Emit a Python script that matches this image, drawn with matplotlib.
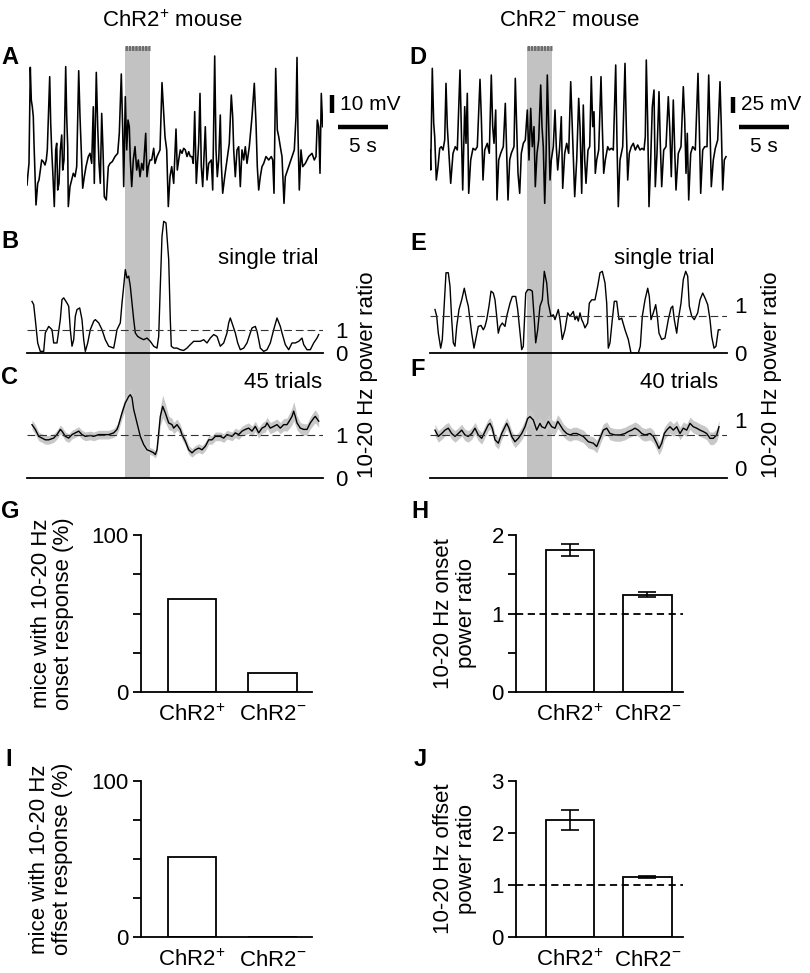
import numpy as np
import matplotlib
matplotlib.use("Agg")
import matplotlib.pyplot as plt

plt.rcParams['font.family'] = 'Liberation Sans'
plt.rcParams['font.size'] = 16
plt.rcParams['mathtext.fontset'] = 'custom'
plt.rcParams['mathtext.rm'] = 'Liberation Sans'
plt.rcParams['mathtext.it'] = 'Liberation Sans:italic'
plt.rcParams['mathtext.bf'] = 'Liberation Sans:bold'
plt.rcParams['mathtext.default'] = 'regular'

W, H = 810, 973

# ---------------- data ----------------
# light stimulus window (s)
stim_pos = (9.85, 12.35)
stim_neg = (9.7, 12.2)

# A: membrane potential, ChR2+ mouse (t [s], mV re. baseline)
vm_pos = [
    (0.0, -13.9), (0.07, -9.3), (0.2, -1.9), (0.33, 51.5), (0.43, 33.3), (0.53, 29.6),
    (0.63, 24.1), (0.7, 9.3), (0.9, -25.0), (1.07, -13.0), (1.2, -11.1), (1.33, -5.6),
    (1.47, 0.0), (1.63, -0.9), (1.8, -2.8), (1.93, 0.0), (2.03, 5.6), (2.27, 46.3),
    (2.37, 20.4), (2.47, 5.6), (2.6, -9.3), (2.73, -25.9), (2.87, 5.6), (2.97, 9.3),
    (3.07, -16.7), (3.2, -13.0), (3.33, 5.6), (3.47, 13.9), (3.57, -5.6), (3.7, 0.0),
    (3.87, 51.9), (3.97, 24.1), (4.07, 7.4), (4.13, -25.9), (4.3, -14.8), (4.47, -11.1),
    (4.63, -7.4), (4.8, -9.3), (4.97, -3.7), (5.17, 49.6), (5.3, 24.1), (5.47, 0.0),
    (5.57, -15.7), (5.73, -9.3), (5.9, -3.7), (6.13, 1.9), (6.3, 3.7), (6.47, -1.9),
    (6.63, 29.6), (6.73, -13.0), (6.93, 48.7), (7.07, 18.5), (7.2, -1.9), (7.33, -13.0),
    (7.47, 25.9), (7.6, 5.6), (7.73, -20.4), (7.93, -22.2), (8.13, -3.7), (8.3, -1.9),
    (8.53, -0.9), (8.8, 1.9), (9.07, 3.7), (9.23, 14.8), (9.43, 47.8), (9.57, 16.7),
    (9.67, -14.8), (9.83, 35.2), (9.97, 5.6), (10.1, 22.2), (10.23, 18.5), (10.33, 0.0),
    (10.47, -14.8), (10.63, 0.0), (10.8, 7.4), (10.97, -5.6), (11.13, 0.0), (11.3, -9.3),
    (11.47, -1.9), (11.63, -5.6), (11.87, 14.8), (12.0, -9.3), (12.13, -3.7), (12.3, 0.0),
    (12.47, 0.0), (12.67, 6.5), (12.8, -1.9), (13.0, 1.9), (13.3, 5.6), (13.5, 43.0),
    (13.63, 29.6), (13.8, 13.0), (13.97, 5.6), (14.13, -25.9), (14.3, -9.3), (14.47, -3.7),
    (14.67, -13.0), (14.9, 17.2), (15.03, -5.6), (15.17, 0.0), (15.33, 5.6), (15.5, 3.7),
    (15.67, 6.5), (15.83, 5.6), (16.0, 1.9), (16.17, 4.6), (16.33, 1.9), (16.5, 1.9),
    (16.63, -1.9), (16.77, 26.9), (16.93, -13.0), (17.17, 9.3), (17.3, 37.0), (17.43, -3.7),
    (17.57, -14.8), (17.83, 18.5), (18.0, -11.1), (18.17, -1.9), (18.43, 0.0), (18.57, -16.7),
    (18.77, 57.8), (18.9, 5.6), (19.03, -9.3), (19.17, 0.0), (19.33, 25.0), (19.43, -1.9),
    (19.57, -18.5), (19.77, -9.3), (20.0, 0.0), (20.23, 9.3), (20.43, 36.1), (20.57, 24.1),
    (20.67, 5.6), (20.83, -9.3), (21.0, 5.6), (21.17, 7.4), (21.33, -14.8), (21.5, 5.6),
    (21.67, 0.0), (21.83, 7.4), (22.0, -1.9), (22.23, 7.4), (22.5, 24.1), (22.73, 42.6),
    (22.9, 20.4), (23.03, -3.7), (23.17, -16.7), (23.33, -9.3), (23.5, -3.7), (23.67, -1.9),
    (23.9, 1.9), (24.17, 0.0), (24.43, 1.9), (24.57, 0.0), (24.7, -18.5), (24.87, 50.9),
    (25.03, 16.7), (25.17, 13.0), (25.33, 7.4), (25.5, 1.9), (25.7, -24.1), (25.83, -9.3),
    (26.17, -3.7), (26.5, 1.9), (26.73, 5.6), (26.9, 24.1), (27.0, 57.0), (27.1, 14.8),
    (27.23, -16.7), (27.4, 5.6), (27.57, -3.7), (27.83, -1.9), (28.17, 1.9), (28.5, 3.7),
    (28.73, 0.0), (28.9, 1.9), (29.03, 22.2), (29.17, 18.5), (29.3, -7.4), (29.43, 37.0),
    (29.57, 18.5),
]

# D: membrane potential, ChR2- mouse (t [s], mV re. baseline)
vm_neg = [
    (0.0, -5), (0.07, -35), (0.23, 117.5), (0.37, 35), (0.47, 15), (0.63, -50),
    (0.8, -30), (0.97, -2.5), (1.13, 0), (1.3, -5), (1.47, 10), (1.6, 95),
    (1.73, 30), (1.87, -5), (2.07, -55), (2.3, -10), (2.53, 0), (2.73, -5),
    (3.0, 115), (3.13, 30), (3.27, -65), (3.47, 60), (3.6, 5), (3.73, 80),
    (3.87, -70), (4.07, -20), (4.3, -2.5), (4.53, -5), (4.73, 0), (5.0, 101),
    (5.13, 45), (5.3, -50), (5.47, -5), (5.73, 5), (5.93, -10), (6.13, 107.5),
    (6.27, 30), (6.4, 5), (6.57, 55), (6.7, -80), (6.87, -20), (7.07, -10),
    (7.33, 0), (7.53, 65), (7.67, -10), (7.8, -80), (7.97, -20), (8.13, -10),
    (8.4, 0), (8.53, 102.5), (8.67, 30), (8.8, -40), (8.97, -70), (9.13, -10),
    (9.33, 5), (9.53, 10), (9.73, 55), (9.9, -20), (10.07, 57.5), (10.23, 0),
    (10.4, 30), (10.53, -60), (10.7, -10), (10.87, 10), (11.07, 92.5), (11.2, 30),
    (11.33, 0), (11.47, -85), (11.6, -20), (11.73, 107.5), (11.87, 30), (12.0, -50),
    (12.13, -20), (12.33, 0), (12.5, 55), (12.63, 0), (12.77, -35), (12.97, 0),
    (13.13, 45), (13.27, -62.5), (13.47, -10), (13.67, 5), (13.87, -10), (14.07, 97.5),
    (14.2, 40), (14.33, -20), (14.47, -75), (14.67, -20), (14.87, 72.5), (15.0, 30),
    (15.17, -70), (15.33, 62.5), (15.47, -20), (15.6, -55), (15.8, -5), (15.97, 0),
    (16.13, 105), (16.27, 30), (16.4, 52.5), (16.53, -40), (16.67, -20), (16.87, -5),
    (17.1, 105), (17.23, 30), (17.37, -40), (17.53, -20), (17.77, 0), (17.93, -5),
    (18.13, -2.5), (18.33, -5), (18.57, 122.5), (18.7, 5), (18.83, -90), (19.0, -20),
    (19.27, 0), (19.5, 125), (19.63, 30), (19.77, -50), (19.93, -10), (20.13, 0),
    (20.33, 5), (20.53, -5), (20.77, 2.5), (21.0, -5), (21.2, -2.5), (21.4, -5),
    (21.53, 15), (21.63, 130), (21.77, 35), (21.9, -90), (22.07, -20), (22.23, 60),
    (22.4, 85), (22.53, -60), (22.7, -10), (22.9, 82.5), (23.03, 5), (23.17, -60),
    (23.37, -5), (23.6, 0), (23.83, 75), (23.97, 30), (24.13, -45), (24.33, 70),
    (24.47, -5), (24.6, -65), (24.83, -10), (25.1, 0), (25.33, 90), (25.47, 40),
    (25.6, -40), (25.73, 20), (25.87, -80), (26.07, -10), (26.27, 0), (26.53, -5),
    (26.8, 110), (26.93, 30), (27.07, -70), (27.27, -5), (27.47, 0), (27.7, 0),
    (27.87, 107.5), (28.0, 30), (28.13, -60), (28.33, -20), (28.53, -2.5), (28.77, 10),
    (29.0, 97.5), (29.13, 30), (29.27, -65), (29.43, -20), (29.6, -15),
]

# B: 10-20 Hz power ratio, single trial, ChR2+
single_pos = [
    (0.5, 2.21), (0.67, 2.07), (0.83, 1.43), (1.07, 0.43), (1.33, 0.07), (1.67, 0.07),
    (1.83, 0.86), (2.17, 1.14), (2.5, 1.0), (2.67, 0.43), (3.0, 0.43), (3.33, 1.43),
    (3.5, 2.29), (3.67, 2.36), (4.0, 2.14), (4.17, 2.0), (4.33, 1.0), (4.5, 0.29),
    (4.67, 0.57), (4.83, 1.57), (5.0, 1.86), (5.27, 1.93), (5.5, 1.43), (5.67, 0.57),
    (5.83, 0.07), (6.07, 0.43), (6.33, 1.0), (6.67, 1.36), (6.83, 1.43), (7.17, 1.29),
    (7.5, 1.0), (7.83, 0.57), (8.17, 0.29), (8.67, 0.21), (8.83, 0.57), (9.0, 1.0),
    (9.33, 1.29), (9.5, 2.14), (9.67, 2.86), (9.83, 3.57), (10.0, 3.21), (10.17, 3.29),
    (10.33, 2.86), (10.5, 2.14), (10.67, 1.43), (10.83, 0.86), (11.07, 0.71), (11.33, 0.64),
    (11.67, 0.57), (12.0, 0.64), (12.33, 0.5), (12.67, 0.29), (13.0, 0.21), (13.17, 0.71),
    (13.33, 2.86), (13.5, 5.0), (13.67, 5.64), (13.9, 5.57), (14.17, 4.0), (14.33, 1.43),
    (14.43, 0.29), (14.67, 0.21), (15.0, 0.21), (15.33, 0.14), (15.67, 0.11), (16.0, 0.21),
    (16.33, 0.36), (16.67, 0.5), (17.33, 0.5), (17.67, 0.57), (18.0, 0.43), (18.33, 0.64),
    (18.67, 0.79), (19.0, 0.71), (19.33, 0.29), (19.67, 0.43), (20.0, 0.86), (20.17, 1.29),
    (20.33, 1.5), (20.5, 1.29), (20.83, 0.86), (21.07, 0.43), (21.33, 0.14), (21.67, 0.21),
    (22.0, 0.43), (22.33, 0.86), (22.5, 1.07), (22.83, 1.14), (23.0, 0.93), (23.17, 0.57),
    (23.33, 0.21), (23.67, 0.07), (24.0, 0.14), (24.33, 0.43), (24.67, 1.0), (25.0, 1.5),
    (25.33, 1.14), (25.5, 0.86), (25.83, 0.36), (26.17, 0.14), (26.5, 0.43), (26.83, 0.43),
    (27.17, 0.5), (27.5, 0.64), (27.67, 0.36), (28.0, 0.14), (28.33, 0.14), (28.67, 0.43),
    (29.0, 0.64), (29.17, 0.79),
]

# E: 10-20 Hz power ratio, single trial, ChR2-
single_neg = [
    (0.5, 0.9), (0.67, 0.76), (0.83, 0.41), (1.07, 0.1), (1.23, 0.28), (1.43, 1.03),
    (1.6, 1.66), (1.83, 1.66), (2.0, 1.38), (2.17, 0.69), (2.33, 0.21), (2.5, 0.14),
    (2.67, 0.55), (2.9, 0.9), (3.17, 1.1), (3.43, 1.34), (3.67, 1.1), (3.83, 0.97),
    (4.0, 0.69), (4.17, 0.41), (4.4, 0.1), (4.57, 0.28), (4.83, 0.55), (5.1, 0.57),
    (5.33, 0.48), (5.5, 0.55), (5.67, 0.69), (5.9, 0.97), (6.1, 1.28), (6.33, 1.24),
    (6.5, 1.1), (6.67, 0.76), (6.83, 0.41), (7.0, 0.55), (7.23, 0.62), (7.5, 0.55),
    (7.67, 0.76), (8.0, 1.03), (8.23, 1.17), (8.57, 1.17), (8.77, 0.9), (9.0, 0.41),
    (9.17, 0.07), (9.33, 0.14), (9.57, 1.24), (9.77, 1.31), (10.0, 1.31), (10.23, 1.28),
    (10.43, 0.69), (10.57, 0.21), (10.77, 0.48), (11.0, 0.97), (11.23, 1.1), (11.43, 1.69),
    (11.67, 1.45), (11.83, 1.03), (12.1, 0.76), (12.33, 0.79), (12.5, 0.69), (12.83, 0.9),
    (13.0, 0.69), (13.23, 0.28), (13.5, 0.48), (13.77, 0.83), (14.0, 0.76), (14.33, 0.86),
    (14.5, 0.69), (14.67, 0.76), (14.83, 0.66), (15.0, 0.83), (15.17, 0.69), (15.33, 0.62),
    (15.5, 0.52), (15.77, 0.62), (15.93, 1.03), (16.17, 1.1), (16.5, 1.1), (16.77, 1.38),
    (17.0, 1.66), (17.23, 1.69), (17.5, 1.45), (17.67, 1.03), (17.83, 0.1), (18.0, 0.21),
    (18.23, 0.69), (18.43, 1.07), (18.67, 1.07), (18.9, 0.69), (19.17, 0.72), (19.5, 0.48),
    (19.83, 0.28), (20.1, 0.0), (20.83, 0.0), (21.03, 0.14), (21.23, 0.76), (21.5, 1.1),
    (21.77, 1.34), (21.93, 1.17), (22.1, 0.69), (22.33, 0.83), (22.57, 1.0), (22.73, 0.76),
    (22.9, 0.41), (23.17, 0.28), (23.5, 0.31), (23.83, 0.69), (24.1, 0.93), (24.27, 0.97),
    (24.43, 0.69), (24.67, 0.41), (24.83, 0.69), (25.1, 1.03), (25.33, 1.52), (25.57, 1.69),
    (25.77, 1.59), (25.93, 0.97), (26.17, 0.76), (26.43, 0.69), (26.77, 0.83), (27.0, 1.1),
    (27.27, 1.24), (27.5, 1.14), (27.77, 1.0), (28.0, 0.69), (28.17, 0.34), (28.4, 0.1),
    (28.6, 0.14), (28.83, 0.48), (29.0, 0.48),
]

# C: mean +- SEM over 45 trials, ChR2+ (t, mean, sem)
mean_pos = [
    (0.5, 1.23, 0.11), (0.83, 1.12, 0.11), (1.17, 0.96, 0.1), (1.5, 0.92, 0.1), (1.83, 0.88, 0.1),
    (2.17, 0.88, 0.1), (2.67, 0.92, 0.1), (3.0, 1.0, 0.1), (3.33, 1.12, 0.1), (3.5, 1.08, 0.1),
    (3.83, 0.96, 0.1), (4.17, 0.92, 0.1), (4.5, 1.0, 0.1), (4.83, 1.04, 0.1), (5.17, 1.08, 0.1),
    (5.5, 1.0, 0.1), (5.83, 0.96, 0.1), (6.33, 0.98, 0.1), (6.67, 0.96, 0.1), (7.17, 1.0, 0.1),
    (7.67, 1.0, 0.1), (8.17, 1.0, 0.1), (8.67, 1.04, 0.1), (9.0, 1.12, 0.11), (9.17, 1.23, 0.12),
    (9.5, 1.5, 0.13), (9.83, 1.73, 0.15), (10.17, 1.88, 0.16), (10.33, 1.92, 0.16), (10.5, 1.85, 0.15),
    (10.67, 1.58, 0.13), (11.0, 1.27, 0.11), (11.33, 0.96, 0.1), (11.67, 0.77, 0.09), (12.0, 0.65, 0.08),
    (12.33, 0.62, 0.08), (12.67, 0.58, 0.08), (12.83, 0.54, 0.08), (13.0, 0.65, 0.1), (13.17, 1.04, 0.15),
    (13.33, 1.42, 0.22), (13.57, 1.65, 0.26), (13.83, 1.5, 0.22), (14.17, 1.27, 0.16), (14.5, 1.23, 0.14),
    (14.67, 1.15, 0.13), (15.0, 1.23, 0.13), (15.33, 1.12, 0.12), (15.5, 1.0, 0.11), (15.83, 0.85, 0.1),
    (16.17, 0.65, 0.1), (16.5, 0.58, 0.1), (16.83, 0.65, 0.1), (17.17, 0.69, 0.1), (17.5, 0.65, 0.1),
    (17.83, 0.73, 0.1), (18.17, 0.88, 0.1), (18.5, 0.88, 0.1), (18.83, 0.96, 0.1), (19.33, 0.96, 0.1),
    (19.67, 0.92, 0.1), (20.0, 1.0, 0.1), (20.5, 0.96, 0.1), (20.83, 1.04, 0.11), (21.17, 1.0, 0.11),
    (21.5, 1.08, 0.11), (21.83, 1.12, 0.12), (22.17, 1.15, 0.12), (22.5, 1.08, 0.12), (22.83, 1.19, 0.12),
    (23.17, 1.04, 0.12), (23.5, 1.15, 0.12), (23.83, 1.19, 0.13), (24.0, 1.27, 0.13), (24.33, 1.15, 0.13),
    (24.67, 1.19, 0.13), (25.0, 1.23, 0.13), (25.33, 1.15, 0.13), (25.67, 1.23, 0.14), (26.0, 1.23, 0.15),
    (26.33, 1.35, 0.18), (26.5, 1.42, 0.2), (26.67, 1.54, 0.22), (26.83, 1.42, 0.2), (27.0, 1.27, 0.16),
    (27.33, 1.15, 0.13), (27.67, 1.12, 0.13), (28.0, 1.12, 0.13), (28.33, 1.27, 0.14), (28.67, 1.38, 0.15),
    (28.83, 1.42, 0.15), (29.17, 1.31, 0.14),
]

# F: mean +- SEM over 40 trials, ChR2- (t, mean, sem)
mean_neg = [
    (0.5, 0.79, 0.12), (0.83, 0.66, 0.12), (1.17, 0.72, 0.12), (1.5, 0.79, 0.12), (1.83, 0.83, 0.12),
    (2.17, 0.72, 0.12), (2.5, 0.66, 0.12), (2.83, 0.72, 0.12), (3.17, 0.79, 0.12), (3.5, 0.69, 0.12),
    (3.83, 0.66, 0.12), (4.17, 0.72, 0.12), (4.5, 0.83, 0.12), (4.83, 0.69, 0.12), (5.17, 0.62, 0.12),
    (5.5, 0.76, 0.12), (5.83, 0.9, 0.12), (6.0, 0.93, 0.12), (6.23, 0.83, 0.12), (6.5, 0.59, 0.12),
    (6.83, 0.52, 0.12), (7.17, 0.72, 0.12), (7.5, 0.86, 0.12), (7.67, 0.93, 0.12), (7.9, 0.83, 0.12),
    (8.17, 0.66, 0.12), (8.5, 0.55, 0.12), (8.83, 0.62, 0.12), (9.17, 0.72, 0.13), (9.5, 0.86, 0.14),
    (9.77, 1.03, 0.15), (10.0, 1.07, 0.15), (10.33, 1.0, 0.15), (10.67, 0.79, 0.14), (11.0, 0.93, 0.14),
    (11.17, 0.86, 0.14), (11.5, 0.83, 0.14), (11.83, 0.97, 0.14), (12.17, 0.86, 0.14), (12.5, 0.83, 0.14),
    (12.77, 0.97, 0.14), (13.0, 0.9, 0.14), (13.33, 0.79, 0.13), (13.67, 0.72, 0.13), (14.0, 0.69, 0.13),
    (14.33, 0.72, 0.13), (14.67, 0.72, 0.13), (15.0, 0.69, 0.13), (15.33, 0.66, 0.13), (15.83, 0.55, 0.13),
    (16.33, 0.52, 0.13), (16.67, 0.45, 0.13), (17.0, 0.62, 0.13), (17.33, 0.79, 0.13), (17.67, 0.83, 0.13),
    (18.0, 0.72, 0.13), (18.5, 0.69, 0.13), (19.0, 0.69, 0.13), (19.5, 0.72, 0.13), (19.83, 0.76, 0.13),
    (20.17, 0.79, 0.13), (20.5, 0.83, 0.13), (20.83, 0.79, 0.13), (21.17, 0.72, 0.13), (21.5, 0.69, 0.13),
    (22.0, 0.72, 0.13), (22.33, 0.66, 0.13), (22.67, 0.52, 0.13), (22.9, 0.41, 0.13), (23.17, 0.52, 0.13),
    (23.43, 0.72, 0.13), (23.67, 0.79, 0.13), (24.0, 0.86, 0.13), (24.33, 0.79, 0.13), (24.67, 0.86, 0.13),
    (25.0, 0.72, 0.13), (25.33, 0.83, 0.13), (25.67, 0.79, 0.13), (26.0, 0.93, 0.13), (26.33, 0.86, 0.13),
    (26.67, 0.83, 0.13), (27.0, 0.79, 0.13), (27.33, 0.76, 0.13), (27.67, 0.72, 0.13), (28.0, 0.62, 0.13),
    (28.33, 0.62, 0.13), (28.67, 0.69, 0.13), (28.9, 0.86, 0.13),
]

# dashed reference level per trace panel
ref_single_pos, ref_mean_pos = 1.0, 1.0
ref_single_neg, ref_mean_neg = 0.77, 0.69

# bar charts
groups = ['ChR2$^{+}$', 'ChR2$^{-}$']
onset_pct = [59, 12]
offset_pct = [51, 0]
onset_ratio = [1.81, 1.24]
onset_sem = [0.075, 0.03]
offset_ratio = [2.25, 1.15]
offset_sem = [0.19, 0.02]

# scale bars
scale_mv_pos, scale_mv_neg, scale_s = 10, 25, 5

# ---------------- figure ----------------
fig = plt.figure(figsize=(W / 100, H / 100), dpi=100)


def add_ax(x0, y0, x1, y1, z=1):
    # box given in pixels from the top-left corner
    ax = fig.add_axes([x0 / W, 1 - y1 / H, (x1 - x0) / W, (y1 - y0) / H], zorder=z)
    ax.patch.set_visible(False)
    return ax


def clean(ax, keep=('bottom',)):
    for s in ['top', 'bottom', 'left', 'right']:
        ax.spines[s].set_visible(s in keep)
        ax.spines[s].set_linewidth(1.3)


def ftext(x, y, s, **kw):
    fig.text(x / W, 1 - y / H, s, **kw)


# light-stimulus shading behind A-C and D-F
for x0, x1, xmax, stim in [(27, 323, 29.6, stim_pos), (430, 727, 29.7, stim_neg)]:
    bg = add_ax(x0, 47, x1, 478, z=0)
    bg.axvspan(*stim, color='#c2c2c2', lw=0)
    bg.set_xlim(0, xmax)
    bg.axis('off')


def vm_panel(box, data, xmax, ylim, stim, bar_mv, bar_t, bar_y, label_y, s_y):
    ax = add_ax(*box)
    t, v = np.array(data).T
    ax.plot(t, v, color='k', lw=1.15)
    ax.set_xlim(0, xmax)
    ax.set_ylim(ylim)
    ax.axis('off')
    # stimulus pulses
    ax.plot(stim, [ylim[1] - 0.02 * (ylim[1] - ylim[0])] * 2, color='#6e6e6e', lw=3.6,
            ls=(0, (0.5, 0.15)), solid_capstyle='butt', clip_on=False)
    # scale bars
    ax.plot([bar_t, bar_t], [bar_y, bar_y + bar_mv], color='k', lw=3.2,
            solid_capstyle='butt', clip_on=False)
    ax.plot([bar_t + 0.6, bar_t + 0.6 + scale_s], [s_y, s_y], color='k', lw=3.2,
            solid_capstyle='butt', clip_on=False)
    ax.text(bar_t + 0.8, label_y, f'{bar_mv} mV', va='center', ha='left', fontsize=15)
    ax.text(bar_t + 0.6 + scale_s / 2, s_y - 0.12 * (ylim[1] - ylim[0]), f'{scale_s} s',
            va='center', ha='center', fontsize=15)
    return ax


vm_panel((27, 45, 323, 210), vm_pos, 29.6, (-27.8, 63.9), stim_pos,
         scale_mv_pos, 30.5, 26.1, 31.1, 18.3)
vm_panel((430, 45, 727, 210), vm_neg, 29.7, (-95, 152.5), stim_neg,
         scale_mv_neg, 30.3, 50, 62.5, 29.5)


def ratio_panel(box, data, xmax, ylim, ref, pad, text, text_xy):
    ax = add_ax(*box)
    arr = np.array(data).T
    if len(arr) == 3:
        t, m, s = arr
        ax.fill_between(t, m - s, m + s, color='#c8c8c8', lw=0)
    else:
        t, m = arr
    ax.plot(t, m, color='k', lw=1.0)
    ax.axhline(ref, color='#333333', lw=0.8, ls=(0, (7, 3.5)))
    clean(ax)
    ax.set_xlim(0, xmax)
    ax.set_ylim(ylim)
    ax.set_xticks([])
    ax.yaxis.tick_right()
    ax.set_yticks([0, 1])
    ax.tick_params(axis='y', length=0, pad=pad, labelsize=16)
    ftext(text_xy[0], text_xy[1], text, ha='right', va='center', fontsize=16)
    return ax


ratio_panel((27, 215, 323, 353), single_pos, 29.6, (0, 5.91), ref_single_pos, 9,
            'single trial', (318, 258))
ratio_panel((27, 360, 323, 478), mean_pos, 29.6, (0, 2.72), ref_mean_pos, 9,
            '45 trials', (322, 383))
ratio_panel((430, 215, 727, 353), single_neg, 29.7, (0, 2.855), ref_single_neg, 5,
            'single trial', (715, 258))
ratio_panel((430, 360, 727, 478), mean_neg, 29.7, (-0.2, 2.24), ref_mean_neg, 5,
            '40 trials', (718, 383))

for x in (367, 772):
    ftext(x, 375, '10-20 Hz power ratio', rotation=90, ha='center', va='center', fontsize=16)

ftext(172, 21, 'ChR2$^{+}$ mouse', ha='center', va='center', fontsize=16)
ftext(569, 21, 'ChR2$^{-}$ mouse', ha='center', va='center', fontsize=16)


def bar_panel(box, vals, xlim, width, ylim, major, minor, ylabel, label_x, err=None, ref=None):
    ax = add_ax(*box)
    x = np.arange(len(vals))
    ax.bar(x, vals, width=width, color='white', edgecolor='k', lw=1.3, zorder=2)
    if err is not None:
        ax.errorbar(x, vals, yerr=err, fmt='none', ecolor='k', elinewidth=1.2,
                    capsize=6.5, capthick=1.2, zorder=3)
    if ref is not None:
        ax.axhline(ref, color='k', lw=1.3, ls=(0, (4, 2.5)), zorder=4)
    clean(ax, keep=('bottom', 'left'))
    ax.set_xlim(xlim)
    ax.set_ylim(ylim)
    ax.set_yticks(major)
    ax.set_yticks(minor, minor=True)
    ax.tick_params(axis='y', which='both', length=5.8, width=1.3, pad=3, labelsize=16)
    ax.set_xticks(x, groups)
    ax.tick_params(axis='x', length=0, pad=9, labelsize=16)
    ax.set_ylabel(ylabel, fontsize=16, linespacing=1.1)
    ax.yaxis.set_label_coords(label_x, 0.5)
    return ax


bar_panel((141, 535, 312, 692), onset_pct, (-0.628, 1.486), 0.6, (0, 100),
          [0, 100], [25, 50, 75], 'mice with 10-20 Hz\nonset response (%)', -0.39)
bar_panel((141, 781, 312, 937), offset_pct, (-0.628, 1.486), 0.6, (0, 100),
          [0, 100], [25, 50, 75], 'mice with 10-20 Hz\noffset response (%)', -0.40)
bar_panel((516, 535, 683, 692), onset_ratio, (-0.692, 1.457), 0.62, (0, 2),
          [0, 1, 2], [0.5, 1.5], '10-20 Hz onset\npower ratio', -0.234,
          err=onset_sem, ref=1)
bar_panel((516, 781, 683, 937), offset_ratio, (-0.692, 1.457), 0.62, (0, 3),
          [0, 1, 2, 3], [], '10-20 Hz offset\npower ratio', -0.234,
          err=offset_sem, ref=1)

# panel letters
for letter, x, y in [('A', 1, 57), ('B', 1, 242), ('C', 1, 377), ('D', 409, 58),
                     ('E', 410, 244), ('F', 410, 369), ('G', 1, 512), ('H', 411, 512),
                     ('I', 5, 760), ('J', 414, 760)]:
    ftext(x, y, letter, fontsize=17, fontweight='bold', ha='left', va='center')

fig.savefig('out.png', dpi=100, facecolor='white')
